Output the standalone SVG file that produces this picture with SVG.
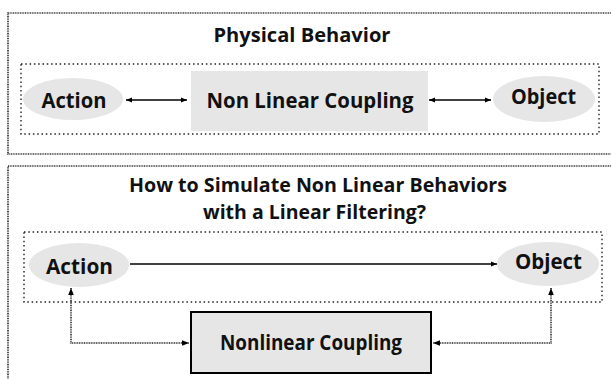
<svg xmlns="http://www.w3.org/2000/svg" width="611" height="379" viewBox="0 0 611 379">
<style>
.panel{fill:none;stroke:#333;stroke-width:1.7;stroke-dasharray:1 0.7}
.group{fill:none;stroke:#222;stroke-width:1.4;stroke-dasharray:1.5 2.8}
.ell{fill:#e6e6e6;stroke:none}
.t{font-family:"Open Sans","Noto Sans","Liberation Sans",sans-serif;font-weight:700;fill:#111;text-anchor:middle}
.lbl{font-size:21px}
.title{font-size:19.5px}
.solid{fill:none;stroke:#000;stroke-width:1.6}
.dot{fill:none;stroke:#222;stroke-width:1.5;stroke-dasharray:1 0.7}
</style>
<defs>
<marker id="ah" viewBox="0 0 10 10" refX="10" refY="5" markerWidth="6" markerHeight="6" orient="auto-start-reverse" markerUnits="userSpaceOnUse">
<path d="M0,1 L10,5 L0,9 z" fill="#000"/>
</marker>
<marker id="ahs" viewBox="0 0 10 10" refX="10" refY="5" markerWidth="7" markerHeight="7" orient="auto-start-reverse" markerUnits="userSpaceOnUse">
<path d="M0,1 L10,5 L0,9 z" fill="#000"/>
</marker>
</defs>
<g id="panel-physical">
<rect class="panel" x="8" y="13" width="620" height="141"/>
<text class="t title" x="302" y="42" textLength="177" lengthAdjust="spacingAndGlyphs">Physical Behavior</text>
<rect class="group" x="21" y="64" width="578" height="70"/>
</g>
<g id="action-top">
<ellipse class="ell" cx="73" cy="99" rx="50" ry="21"/>
<text class="t lbl" x="74" y="108" textLength="65" lengthAdjust="spacingAndGlyphs">Action</text>
</g>
<g id="coupling-top">
<rect x="191" y="71" width="237" height="60" fill="#e6e6e6"/>
<text class="t lbl" x="310" y="108" textLength="207" lengthAdjust="spacingAndGlyphs">Non Linear Coupling</text>
</g>
<g id="object-top">
<ellipse class="ell" cx="544" cy="99" rx="51" ry="23"/>
<text class="t lbl" x="543.5" y="104" textLength="65" lengthAdjust="spacingAndGlyphs">Object</text>
</g>
<g id="panel-simulate">
<rect class="panel" x="8" y="166" width="620" height="230"/>
<text class="t title" x="318" y="192" textLength="378" lengthAdjust="spacingAndGlyphs">How to Simulate Non Linear Behaviors</text>
<text class="t title" x="314.5" y="219" textLength="223" lengthAdjust="spacingAndGlyphs">with a Linear Filtering?</text>
<rect class="group" x="24" y="232" width="578" height="70"/>
</g>
<g id="action-bottom">
<ellipse class="ell" cx="79" cy="265" rx="50" ry="22"/>
<text class="t lbl" x="79.5" y="274" textLength="67" lengthAdjust="spacingAndGlyphs">Action</text>
</g>
<g id="object-bottom">
<ellipse class="ell" cx="548" cy="264" rx="51" ry="22"/>
<text class="t lbl" x="548.5" y="269" textLength="67" lengthAdjust="spacingAndGlyphs">Object</text>
</g>
<g id="coupling-bottom">
<rect x="191" y="312" width="240" height="61" fill="#e6e6e6" stroke="#000" stroke-width="2"/>
<text class="t lbl" x="311" y="350" textLength="182" lengthAdjust="spacingAndGlyphs">Nonlinear Coupling</text>
</g>
<g id="connectors">
<line class="solid" x1="126" y1="100" x2="187" y2="100" marker-start="url(#ah)" marker-end="url(#ah)"/>
<line class="solid" x1="429" y1="100" x2="491" y2="100" marker-start="url(#ah)" marker-end="url(#ah)"/>
<line class="solid" x1="130" y1="264" x2="497" y2="264" marker-end="url(#ah)"/>
<polyline class="dot" points="71,288 71,343 189,343" marker-start="url(#ahs)" marker-end="url(#ahs)"/>
<polyline class="dot" points="551,288 551,343 433,343" marker-start="url(#ahs)" marker-end="url(#ahs)"/>
</g>
</svg>
